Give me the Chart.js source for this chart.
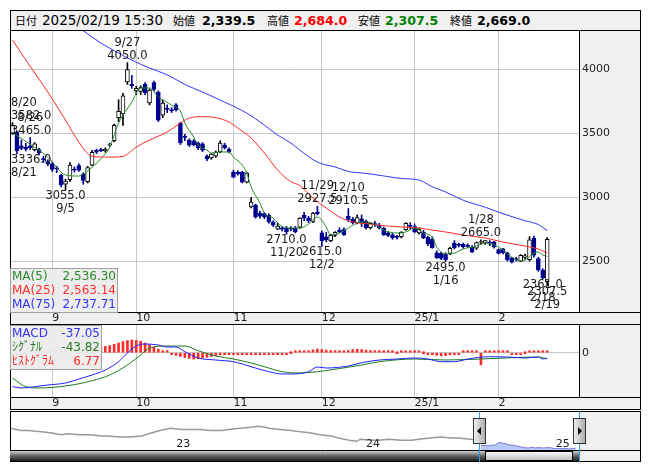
<!DOCTYPE html>
<html>
<head>
<meta charset="utf-8">
<script src="https://cdn.jsdelivr.net/npm/chart.js@4.4.1/dist/chart.umd.min.js"></script>
<style>
body { margin: 0; background: #fff; width: 653px; height: 470px; overflow: hidden; font-family: "DejaVu Sans", "Noto Sans CJK JP", sans-serif; }
#hdr { position: absolute; left: 10px; top: 10px; width: 629px; height: 19px; border: 1px solid #000; background: #f0f0f0; font-size: 13.5px; line-height: 19px; white-space: nowrap; color: #000; }
#hdr span { position: absolute; top: 0; }
#hdr .k { font-family: "Noto Sans CJK JP", sans-serif; font-size: 11px; }
#hdr .v { font-weight: bold; font-size: 12.6px; }
canvas { position: absolute; left: 10px; }
</style>
</head>
<body>
<div id="hdr">
  <span class="k" style="left:4px">日付</span><span style="left:31px">2025/02/19 15:30</span>
  <span class="k" style="left:162px">始値</span><span class="v" style="left:191px">2,339.5</span>
  <span class="k" style="left:256px">高値</span><span class="v" style="left:283px;color:#ff0000">2,684.0</span>
  <span class="k" style="left:347px">安値</span><span class="v" style="left:374px;color:#008000">2,307.5</span>
  <span class="k" style="left:439px">終値</span><span class="v" style="left:466px">2,669.0</span>
</div>
<canvas id="main" width="631" height="295" style="top:30px"></canvas>
<canvas id="macd" width="631" height="86" style="top:324px"></canvas>
<canvas id="nav" width="631" height="51" style="top:411px"></canvas>
<script>
// daily candles 2024/08/20 .. 2025/02/19
const opens  = [3500,3510,3400,3390,3400,3370,3370,3300,3275,3260,3225,3170,3100,3135,3215,3245,3180,3120,3250,3365,
                3370,3360,3405,3440,3620,3650,3900,3880,3830,3825,3880,3735,3895,3820,3640,3690,3680,3720,3578,3475,
                3445,3440,3420,3415,3320,3305,3320,3352,3405,3375,3195,3195,3195,3117,2922,2937,2875,2870,2859,2805,
                2750,2760,2758,2752,2758,2765,2860,2835,2805,2885,2720,2690,2660,2700,2740,2745,2850,2825,2800,2830,
                2810,2760,2790,2780,2758,2720,2705,2690,2690,2745,2780,2770,2720,2725,2685,2670,2565,2560,2555,2560,
                2640,2625,2630,2620,2610,2600,2645,2640,2645,2650,2590,2595,2565,2525,2515,2500,2530,2510,2680,2520,
                2430,2339.5];
const highs  = [3582,3515,3445,3420,3465,3425,3380,3320,3290,3275,3240,3180,3140,3270,3235,3260,3190,3240,3365,3375,
                3380,3385,3420,3570,3760,3810,4050,3950,3865,3870,3895,3845,3905,3830,3760,3720,3700,3730,3585,3490,
                3455,3450,3430,3425,3330,3340,3360,3440,3420,3385,3210,3205,3200,3195,2995,2945,2890,2880,2870,2815,
                2795,2770,2770,2770,2770,2840,2880,2850,2880,2927.5,2735,2725,2710,2730,2760,2760,2910.5,2840,2860,2860,
                2820,2800,2810,2795,2765,2730,2715,2700,2730,2800,2800,2790,2760,2740,2695,2690,2580,2570,2565,2610,
                2660,2640,2640,2635,2620,2650,2665,2660,2660,2655,2595,2600,2570,2530,2530,2550,2555,2690,2695,2530,
                2440,2684];
const lows   = [3490,3336,3370,3360,3370,3360,3330,3270,3245,3200,3190,3080,3055,3120,3195,3200,3100,3110,3245,3340,
                3355,3350,3395,3430,3590,3560,3880,3850,3800,3800,3800,3720,3830,3590,3620,3660,3660,3670,3410,3440,
                3395,3400,3370,3355,3285,3295,3310,3345,3375,3345,3150,3170,3110,3110,2915,2835,2835,2830,2795,2770,
                2745,2735,2710,2735,2720,2755,2815,2800,2800,2860,2615,2650,2650,2690,2720,2700,2810,2790,2790,2770,
                2750,2750,2770,2750,2700,2690,2670,2670,2680,2740,2750,2720,2710,2675,2620,2600,2520,2510,2495,2550,
                2595,2610,2600,2605,2565,2590,2630,2630,2620,2600,2555,2555,2500,2485,2500,2495,2515,2500,2530,2420,
                2361,2307.5];
const closes = [3560,3360,3380,3375,3385,3415,3345,3290,3260,3215,3220,3095,3125,3250,3210,3210,3130,3230,3350,3350,
                3360,3375,3410,3560,3670,3790,3995,3870,3850,3855,3815,3835,3840,3600,3735,3685,3675,3680,3422,3465,
                3405,3410,3385,3367,3297,3336,3352,3422,3385,3352,3156,3180,3117,3188,2961,2844,2850,2845,2805,2781,
                2773,2750,2727,2750,2727,2836,2835,2815,2875,2870,2660,2665,2700,2725,2730,2705,2825,2800,2840,2800,
                2760,2795,2785,2758,2705,2700,2680,2685,2725,2795,2770,2730,2750,2680,2635,2605,2525,2520,2510,2600,
                2605,2622,2610,2615,2572,2645,2648,2660,2640,2610,2560,2565,2508,2492,2512,2545,2540,2665,2545,2430,
                2370,2669];

// moving averages (candle index, value)
const ma5Idx  = [0,5,8,12,15,17,20,22,24,27,29,31,33,36,38,39,41,42,44,45,47,49,50,52,53,54,56,57,59,60,
                 62,65,67,69,71,72,74,76,78,80,82,84,87,89,91,93,95,96,98,100,102,105,107,109,111,113,115,116,118,119,120,121];
const ma5Val  = [3500,3390,3312,3172,3164,3205,3300,3390,3578,3742,3852,3852,3781,3719,3672,3578,3469,3406,3367,3344,
                 3352,3352,3312,3250,3187,3078,2953,2875,2836,2797,2758,2758,2789,2844,2766,2703,2719,2758,2797,2805,
                 2789,2742,2719,2727,2758,2719,2687,2609,2555,2562,2594,2617,2641,2625,2586,2531,2500,2508,2562,2570,2547,2536.3];
const ma25Idx = [0,4,8,12,15,17,18,22,25,28,31,35,38,40,43,46,49,51,54,57,60,63,65,68,71,74,77,81,85,88,92,95,98,102,107,111,116,119,121];
const ma25Val = [4227,4020,3820,3600,3430,3340,3318,3312,3318,3390,3445,3508,3578,3617,3628,3620,3586,3539,3461,3344,
                 3211,3120,3090,2992,2914,2844,2805,2789,2773,2766,2758,2742,2727,2703,2680,2648,2617,2594,2563.14];
const ma75Idx = [14,16,20,24,27,31,35,39,43,48,53,57,60,63,65,69,73,76,80,84,88,92,95,98,102,107,111,116,119,121];
const ma75Val = [4350,4300,4203,4125,4070,4008,3955,3880,3820,3742,3656,3562,3484,3422,3367,3273,3235,3200,3185,3165,
                 3145,3133,3080,3040,2975,2920,2870,2815,2785,2737.71];

// MACD panel
const macdIdx = [0,2,5,8,12,15,18,21,24,26,28,30,33,35,37,39,42,46,50,54,58,61,63,67,69,71,76,79,83,87,91,94,97,100,103,108,112,116,119,120,121];
const macdVal = [-237,-247,-238,-226,-212,-184,-156,-121,-63,-2,47,61,54,40,40,7,-37,-51,-63,-98,
                 -133,-149,-149,-133,-100,-107,-93,-70,-51,-44,-37,-44,-63,-63,-44,-28,-30,-37,-30,-44,-37.05];
const sigIdx  = [0,3,6,12,18,22,26,29,31,35,39,42,46,50,54,58,61,65,69,72,79,83,91,98,106,113,119,121];
const sigVal  = [-177,-238,-247,-233,-196,-156,-86,-16,33,47,47,14,-23,-44,-72,-107,-133,-142,-133,-120,-86,-63,-44,-51,-44,-35,-30,-43.82];
const histVal = [-60,-40,-20,-5,5,10,12,14,15,18,20,22,25,28,30,32,35,38,40,42,
                 40,44,50,58,68,78,85,89,86,80,68,55,40,25,12,3,
                 -10,-18,-26,-34,-40,-44,-42,-38,-32,-26,-20,-15,-12,-10,-10,-10,-9,
                 -8,-8,-7,-6,-5,-5,-4,-3,-2,-1, 0,2,5,8, 12,20,26,22,18,15,
                 10,8,10,15,22,24,22,18,15,12,8,5,3,2,0, 2,5,6,5,3,0,
                 -5,-12,-18,-22,-20,-15,-10, -3,3,5,6,6,-85,8,8,6,4, 3,2,-2,-3,-2,0, 3,5,4,2,6.77];

// axis ticks
const monthIdx = [9,28,50,70,91,110];
const monthLabels = ["9","10","11","12","25/1","2"];
const priceTicks = [2500,3000,3500,4000];

// high / low annotations
const hiIdx = [0,4,26,69,76,106];
const hiDate = ["8/20","8/26","9/27","11/29","12/10","1/28"];
const loIdx = [1,12,62,70,98,120,121];
const loDate = ["8/21","9/5","11/20","12/2","1/16","2/18","2/19"];

// legends
const maNames = ["MA(5)","MA(25)","MA(75)"];
const maLast = ["2,536.30","2,563.14","2,737.71"];
const macdNames = ["MACD","ｼｸﾞﾅﾙ","ﾋｽﾄｸﾞﾗﾑ"];
const macdLast = ["-37.05","-43.82","6.77"];

// navigator (weekly, 2022 .. 2025)
const navW = [0,3,5,8,11,14,16,19,22,25,27,30,33,36,38,41,44,47,49,52,55,58,60,63,66,68,70,71,74,77,
              79,82,85,88,90,93,95,96,99,101,104,107,110,112,115,118,121,123,126,129];
const navV = [7250,6750,6750,6500,6250,5750,6000,5750,5750,5500,5500,5250,5250,5500,6000,6750,7250,7000,7000,7000,
              6750,6750,7000,7250,7500,7750,7500,7250,7000,6750,6500,6250,5750,5500,5000,4500,4250,4750,4500,4500,
              4750,4500,4500,4750,5000,5250,5000,5000,4750,4500];
const winW = [129,130,131,132,133,134,135,136,137,138,139,140,141,142,143,144,145,146,147,148,149,150,151,152,153,154,155];
const winV = [3375,3260,3250,3350,3410,3995,3835,3685,3405,3336,3156,2961,2781,2727,2870,2730,2800,2705,2795,2770,
              2605,2600,2572,2610,2512,2545,2669];
const yearW = [45,97,149];
const yearLabels = ["23","24","25"];
const winRange = [128.6, 156];

const FONT = "DejaVu Sans";
const GRID = "#c8c8c8";
const PANEL = "#f0f0f0";
const X_MIN = -0.57, X_MAX = 128.2;

function pts(xs, ys) { return xs.map((x, i) => ({ x: x, y: ys[i] })); }
const idx = closes.map((_, i) => i);

// grey side panels, white plot, black frame
const framePlugin = {
  id: 'frame',
  beforeDraw(chart) {
    const { ctx, chartArea: a, width, height } = chart;
    ctx.save();
    ctx.fillStyle = PANEL;
    ctx.fillRect(0, 0, width, height);
    ctx.fillStyle = '#fff';
    ctx.fillRect(a.left, a.top, a.right - a.left, a.bottom - a.top);
    ctx.restore();
  },
  afterDraw(chart) {
    const { ctx, chartArea: a, width, height } = chart;
    ctx.save();
    ctx.strokeStyle = '#000';
    ctx.lineWidth = 1;
    ctx.strokeRect(0.5, 0.5, width - 1, height - 1);
    ctx.beginPath();
    ctx.moveTo(Math.round(a.right) + 0.5, 0);
    ctx.lineTo(Math.round(a.right) + 0.5, a.bottom);
    ctx.moveTo(0, Math.round(a.bottom) + 0.5);
    ctx.lineTo(width, Math.round(a.bottom) + 0.5);
    ctx.stroke();
    ctx.restore();
  }
};

function drawLegendBox(ctx, x, y, w, names, vals, colors, rowH) {
  ctx.save();
  ctx.fillStyle = 'rgba(236,236,236,0.95)';
  ctx.fillRect(x, y, w, rowH * names.length + 3);
  ctx.strokeStyle = '#a0a0a0';
  ctx.strokeRect(x + 0.5, y + 0.5, w - 1, rowH * names.length + 2);
  ctx.font = '12px ' + FONT + ', "Noto Sans CJK JP"';
  ctx.textBaseline = 'middle';
  names.forEach((n, i) => {
    const ty = y + 2 + rowH * i + rowH / 2;
    ctx.fillStyle = colors[i];
    ctx.textAlign = 'left';
    ctx.fillText(n, x + 2, ty);
    ctx.textAlign = 'right';
    ctx.fillText(vals[i], x + w - 2, ty);
  });
  ctx.restore();
}

// high/low price labels + MA legend
const annotPlugin = {
  id: 'annot',
  afterDatasetsDraw(chart) {
    const { ctx, chartArea: a } = chart;
    const xs = chart.scales.x, ys = chart.scales.y;
    ctx.save();
    ctx.font = '11.5px ' + FONT;
    ctx.fillStyle = '#1a1a1a';
    ctx.textAlign = 'center';
    ctx.textBaseline = 'middle';
    const place = (txt, px) => {
      const w = ctx.measureText(txt).width;
      return Math.min(Math.max(px, a.left + w / 2 + 1), a.right - w / 2 - 1);
    };
    hiIdx.forEach((i, k) => {
      const px = xs.getPixelForValue(i), py = ys.getPixelForValue(highs[i]);
      const p = highs[i].toFixed(1);
      ctx.fillText(p, place(p, px), py - 7);
      ctx.fillText(hiDate[k], place(hiDate[k], px), py - 20);
    });
    loIdx.forEach((i, k) => {
      const px = xs.getPixelForValue(i), py = ys.getPixelForValue(lows[i]);
      const p = lows[i].toFixed(1);
      ctx.fillText(p, place(p, px), py + 6);
      ctx.fillText(loDate[k], place(loDate[k], px), py + 19);
    });
    ctx.restore();
  },
  afterDraw(chart) {
    const a = chart.chartArea;
    drawLegendBox(chart.ctx, a.left, a.bottom - 44, 108, maNames, maLast, ['#2a8a2a', '#ff3030', '#3434ff'], 14);
  }
};

const xScale = () => ({
  type: 'linear', min: X_MIN, max: X_MAX, offset: false,
  afterBuildTicks: s => { s.ticks = monthIdx.map(v => ({ value: v })); },
  afterFit: s => { s.height = 13; s.paddingLeft = 0; s.paddingRight = 0; },
  ticks: {
    autoSkip: false, maxRotation: 0, align: 'start', padding: 0,
    color: '#222', font: { family: FONT, size: 11 },
    callback: (v, i) => monthLabels[i]
  },
  grid: { color: GRID, drawTicks: false, offset: false },
  border: { display: false }
});

const yScale = (min, max, ticks) => ({
  position: 'right', min: min, max: max, beginAtZero: false,
  afterBuildTicks: s => { s.ticks = ticks.map(v => ({ value: v })); },
  afterFit: s => { s.width = 62; s.paddingTop = 0; s.paddingBottom = 0; },
  ticks: { padding: 3, color: '#222', font: { family: FONT, size: 11 }, callback: v => String(v) },
  grid: { color: GRID, drawTicks: false },
  border: { display: false }
});

new Chart(document.getElementById('main'), {
  type: 'line',
  data: {
    datasets: [
      { type: 'bar', data: idx.map(i => ({ x: i, y: [lows[i], highs[i]] })),
        backgroundColor: idx.map(i => closes[i] >= opens[i] ? '#000' : '#000090'),
        barThickness: 1, grouped: false, order: 4 },
      { type: 'bar', data: idx.map(i => ({ x: i, y: [opens[i], closes[i]] })),
        backgroundColor: idx.map(i => closes[i] >= opens[i] ? '#fff' : '#000090'),
        borderColor: idx.map(i => closes[i] >= opens[i] ? '#000' : '#000090'),
        borderWidth: 1, borderSkipped: false, barThickness: 4, minBarLength: 1, grouped: false, order: 3 },
      { data: pts(ma75Idx, ma75Val), borderColor: '#3434ff', borderWidth: 1, pointRadius: 0, cubicInterpolationMode: 'monotone', order: 2 },
      { data: pts(ma25Idx, ma25Val), borderColor: '#ff2a2a', borderWidth: 1, pointRadius: 0, cubicInterpolationMode: 'monotone', order: 1 },
      { data: pts(ma5Idx, ma5Val), borderColor: '#2a8a2a', borderWidth: 1, pointRadius: 0, cubicInterpolationMode: 'monotone', order: 0 }
    ]
  },
  options: {
    responsive: false, animation: false, events: [],
    layout: { padding: 0 },
    plugins: { legend: { display: false }, tooltip: { enabled: false } },
    scales: { x: xScale(), y: yScale(2102, 4305, priceTicks) }
  },
  plugins: [framePlugin, annotPlugin]
});

const macdLegend = {
  id: 'macdLegend',
  afterDraw(chart) {
    const a = chart.chartArea;
    drawLegendBox(chart.ctx, a.left, a.top, 92, macdNames, macdLast, ['#3434ff', '#2a7a2a', '#ff2a2a'], 14);
  }
};

new Chart(document.getElementById('macd'), {
  type: 'line',
  data: {
    datasets: [
      { type: 'bar', data: idx.map(i => ({ x: i, y: histVal[i] })), backgroundColor: '#ff2a2a',
        barThickness: 2, minBarLength: 2, grouped: false, order: 3 },
      { data: pts(sigIdx, sigVal), borderColor: '#1f7a1f', borderWidth: 1, pointRadius: 0, cubicInterpolationMode: 'monotone', order: 2 },
      { data: pts(macdIdx, macdVal), borderColor: '#2020ff', borderWidth: 1, pointRadius: 0, cubicInterpolationMode: 'monotone', order: 1 }
    ]
  },
  options: {
    responsive: false, animation: false, events: [],
    layout: { padding: { top: 1 } },
    plugins: { legend: { display: false }, tooltip: { enabled: false } },
    scales: { x: xScale(), y: yScale(-310, 194, [0]) }
  },
  plugins: [framePlugin, macdLegend]
});

// navigator: year labels, handles and scrollbar
const navPlugin = {
  id: 'navDeco',
  afterDatasetsDraw(chart) {
    const { ctx, chartArea: a } = chart;
    const xs = chart.scales.x;
    ctx.save();
    ctx.font = '11px ' + FONT;
    ctx.fillStyle = '#222';
    ctx.textAlign = 'left';
    ctx.textBaseline = 'bottom';
    yearW.forEach((w, i) => ctx.fillText(yearLabels[i], xs.getPixelForValue(w) + 2, a.bottom));
    ctx.restore();
  },
  afterDraw(chart) {
    const { ctx, chartArea: a } = chart;
    const xs = chart.scales.x;
    const x0 = Math.round(xs.getPixelForValue(winRange[0]));
    const x1 = Math.min(Math.round(xs.getPixelForValue(winRange[1])), a.right);
    ctx.save();
    // scrollbar
    const sy = a.bottom + 1, sh = chart.height - sy - 1;
    let g = ctx.createLinearGradient(0, sy, 0, sy + sh);
    g.addColorStop(0, '#d0d0d0'); g.addColorStop(0.5, '#606060'); g.addColorStop(1, '#202020');
    ctx.fillStyle = g;
    ctx.fillRect(a.left, sy, a.right - a.left, sh);
    g = ctx.createLinearGradient(0, sy, 0, sy + sh);
    g.addColorStop(0, '#ffffff'); g.addColorStop(1, '#b8b8b8');
    ctx.fillStyle = g;
    ctx.fillRect(x0 + 6, sy, x1 - x0 - 12, sh);
    ctx.strokeStyle = '#000';
    ctx.strokeRect(x0 + 6.5, sy + 0.5, x1 - x0 - 13, sh - 1);
    // window edges
    ctx.strokeStyle = '#2a9df4';
    ctx.beginPath();
    [x0, x1].forEach(x => { ctx.moveTo(x + 0.5, a.top); ctx.lineTo(x + 0.5, chart.height); });
    ctx.stroke();
    // handles
    [[x0, -1], [x1, 1]].forEach(([x, dir]) => {
      const hx = x - 6, hy = a.top + 7, hw = 13, hh = 26;
      const hg = ctx.createLinearGradient(hx, 0, hx + hw, 0);
      hg.addColorStop(0, '#f4f4f4'); hg.addColorStop(1, '#a8a8a8');
      ctx.fillStyle = hg;
      ctx.fillRect(hx, hy, hw, hh);
      ctx.strokeStyle = '#333';
      ctx.strokeRect(hx + 0.5, hy + 0.5, hw - 1, hh - 1);
      ctx.fillStyle = '#000';
      ctx.beginPath();
      const cx = x + 0.5, cy = hy + hh / 2;
      ctx.moveTo(cx + dir * 2.5, cy);
      ctx.lineTo(cx - dir * 1.5, cy - 4);
      ctx.lineTo(cx - dir * 1.5, cy + 4);
      ctx.fill();
    });
    ctx.restore();
  }
};

new Chart(document.getElementById('nav'), {
  type: 'line',
  data: {
    datasets: [
      { data: pts(winW, winV), borderColor: '#7a7ad0', borderWidth: 1, backgroundColor: 'rgba(160,180,245,0.75)', fill: 'start', pointRadius: 0 },
      { data: pts(navW, navV), borderColor: '#9a9a9a', borderWidth: 1.5, pointRadius: 0 }
    ]
  },
  options: {
    responsive: false, animation: false, events: [],
    layout: { padding: 0 },
    plugins: { legend: { display: false }, tooltip: { enabled: false } },
    scales: {
      x: {
        type: 'linear', min: 0, max: 155.9,
        afterFit: s => { s.height = 12; s.paddingLeft = 0; s.paddingRight = 0; },
        ticks: { display: false },
        grid: { display: false },
        border: { display: false }
      },
      y: {
        position: 'right', min: 2250, max: 11250,
        afterFit: s => { s.width = 62; s.paddingTop = 0; s.paddingBottom = 0; },
        ticks: { display: false },
        grid: { display: false },
        border: { display: false }
      }
    }
  },
  plugins: [framePlugin, navPlugin]
});
</script>
</body>
</html>
